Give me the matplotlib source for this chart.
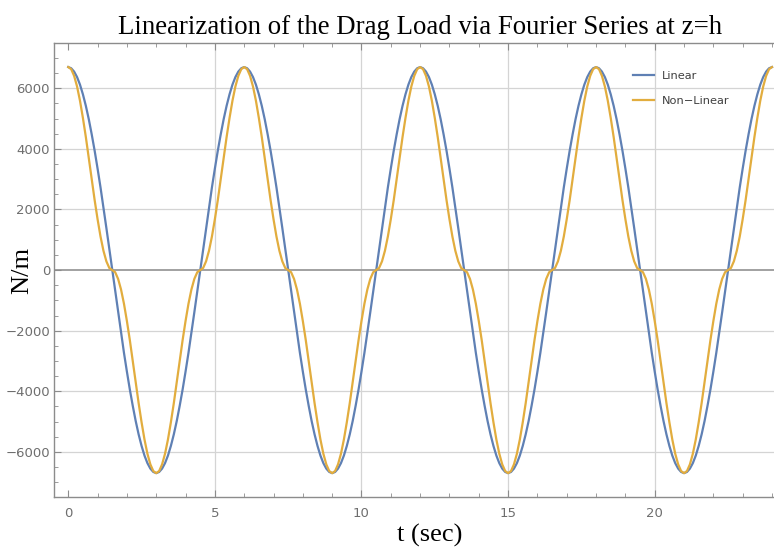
"""Linearization of the drag load via Fourier series at z=h."""

import matplotlib.pyplot as plt
import numpy as np
from matplotlib.ticker import MultipleLocator

# time samples, 0.1 s apart (0 .. 24 s)
t = np.linspace(0, 24, 241)

# values (N/m), one row per half cycle (3 s)
linear = [
    6700, 6660, 6550, 6370, 6120, 5800, 5420, 4980, 4480, 3940, 3350, 2730, 2070, 1390, 700,
    0, -700, -1390, -2070, -2730, -3350, -3940, -4480, -4980, -5420, -5800, -6120, -6370, -6550, -6660,
    -6700, -6660, -6550, -6370, -6120, -5800, -5420, -4980, -4480, -3940, -3350, -2730, -2070, -1390, -700,
    0, 700, 1390, 2070, 2730, 3350, 3940, 4480, 4980, 5420, 5800, 6120, 6370, 6550, 6660,
    6700, 6660, 6550, 6370, 6120, 5800, 5420, 4980, 4480, 3940, 3350, 2730, 2070, 1390, 700,
    0, -700, -1390, -2070, -2730, -3350, -3940, -4480, -4980, -5420, -5800, -6120, -6370, -6550, -6660,
    -6700, -6660, -6550, -6370, -6120, -5800, -5420, -4980, -4480, -3940, -3350, -2730, -2070, -1390, -700,
    0, 700, 1390, 2070, 2730, 3350, 3940, 4480, 4980, 5420, 5800, 6120, 6370, 6550, 6660,
    6700, 6660, 6550, 6370, 6120, 5800, 5420, 4980, 4480, 3940, 3350, 2730, 2070, 1390, 700,
    0, -700, -1390, -2070, -2730, -3350, -3940, -4480, -4980, -5420, -5800, -6120, -6370, -6550, -6660,
    -6700, -6660, -6550, -6370, -6120, -5800, -5420, -4980, -4480, -3940, -3350, -2730, -2070, -1390, -700,
    0, 700, 1390, 2070, 2730, 3350, 3940, 4480, 4980, 5420, 5800, 6120, 6370, 6550, 6660,
    6700, 6660, 6550, 6370, 6120, 5800, 5420, 4980, 4480, 3940, 3350, 2730, 2070, 1390, 700,
    0, -700, -1390, -2070, -2730, -3350, -3940, -4480, -4980, -5420, -5800, -6120, -6370, -6550, -6660,
    -6700, -6660, -6550, -6370, -6120, -5800, -5420, -4980, -4480, -3940, -3350, -2730, -2070, -1390, -700,
    0, 700, 1390, 2070, 2730, 3350, 3940, 4480, 4980, 5420, 5800, 6120, 6370, 6550, 6660,
    6700,
]
non_linear = [
    6700, 6630, 6410, 6060, 5590, 5020, 4390, 3700, 3000, 2310, 1680, 1110, 640, 290, 70,
    0, -70, -290, -640, -1110, -1680, -2310, -3000, -3700, -4390, -5020, -5590, -6060, -6410, -6630,
    -6700, -6630, -6410, -6060, -5590, -5020, -4390, -3700, -3000, -2310, -1680, -1110, -640, -290, -70,
    0, 70, 290, 640, 1110, 1680, 2310, 3000, 3700, 4390, 5020, 5590, 6060, 6410, 6630,
    6700, 6630, 6410, 6060, 5590, 5020, 4390, 3700, 3000, 2310, 1680, 1110, 640, 290, 70,
    0, -70, -290, -640, -1110, -1680, -2310, -3000, -3700, -4390, -5020, -5590, -6060, -6410, -6630,
    -6700, -6630, -6410, -6060, -5590, -5020, -4390, -3700, -3000, -2310, -1680, -1110, -640, -290, -70,
    0, 70, 290, 640, 1110, 1680, 2310, 3000, 3700, 4390, 5020, 5590, 6060, 6410, 6630,
    6700, 6630, 6410, 6060, 5590, 5020, 4390, 3700, 3000, 2310, 1680, 1110, 640, 290, 70,
    0, -70, -290, -640, -1110, -1680, -2310, -3000, -3700, -4390, -5020, -5590, -6060, -6410, -6630,
    -6700, -6630, -6410, -6060, -5590, -5020, -4390, -3700, -3000, -2310, -1680, -1110, -640, -290, -70,
    0, 70, 290, 640, 1110, 1680, 2310, 3000, 3700, 4390, 5020, 5590, 6060, 6410, 6630,
    6700, 6630, 6410, 6060, 5590, 5020, 4390, 3700, 3000, 2310, 1680, 1110, 640, 290, 70,
    0, -70, -290, -640, -1110, -1680, -2310, -3000, -3700, -4390, -5020, -5590, -6060, -6410, -6630,
    -6700, -6630, -6410, -6060, -5590, -5020, -4390, -3700, -3000, -2310, -1680, -1110, -640, -290, -70,
    0, 70, 290, 640, 1110, 1680, 2310, 3000, 3700, 4390, 5020, 5590, 6060, 6410, 6630,
    6700,
]

X_TICKS = [0, 5, 10, 15, 20]
Y_TICKS = [-6000, -4000, -2000, 0, 2000, 4000, 6000]

BLUE = "#5F80B4"
ORANGE = "#E2AD3E"
SERIF = ["Liberation Serif", "DejaVu Serif"]

fig = plt.figure(figsize=(7.74, 5.49), dpi=100)
ax = fig.add_axes([0.070, 0.094, 0.935, 0.828])

for y in Y_TICKS:
    if y != 0:
        ax.axhline(y, color="#d4d4d4", lw=0.9, zorder=0)
for x in X_TICKS[1:]:
    ax.axvline(x, color="#d4d4d4", lw=0.9, zorder=0)
ax.axhline(0, color="#9a9a9a", lw=1.3, zorder=1)

ax.plot(t, linear, color=BLUE, lw=1.6, label="Linear", zorder=3)
ax.plot(t, non_linear, color=ORANGE, lw=1.6, label="Non\u2212Linear", zorder=4)

ax.set_xlim(-0.48, 24.2)
ax.set_ylim(-7500, 7500)
ax.set_xticks(X_TICKS)
ax.set_yticks(Y_TICKS)
ax.xaxis.set_minor_locator(MultipleLocator(1))
ax.yaxis.set_minor_locator(MultipleLocator(500))
ax.tick_params(which="both", direction="in", top=True, right=False,
               color="#8c8c8c", labelcolor="#6e6e6e", labelsize=9.5)
ax.tick_params(which="major", length=5, width=0.8)
ax.tick_params(which="minor", length=3, width=0.6)
ax.tick_params(axis="x", pad=7)
ax.tick_params(axis="y", pad=3)

for side in ("left", "bottom", "top"):
    ax.spines[side].set_color("#8c8c8c")
    ax.spines[side].set_linewidth(1.0)
ax.spines["right"].set_visible(False)

ax.set_title("Linearization of the Drag Load via Fourier Series at z=h",
             family=SERIF, fontsize=19.3, pad=6, x=0.5055)
ax.set_xlabel("t (sec)", family=SERIF, fontsize=19, labelpad=3, x=0.519)
ax.set_ylabel("N/m", family=SERIF, fontsize=19)
ax.yaxis.set_label_coords(-0.029, 0.5)

leg = ax.legend(loc="upper left", bbox_to_anchor=(0.818, 0.871),
                bbox_transform=fig.transFigure, frameon=False, borderpad=0,
                borderaxespad=0, fontsize=8.2, handlelength=1.8,
                handletextpad=0.7, labelspacing=1.36)
for txt in leg.get_texts():
    txt.set_color("#404040")

fig.savefig("out.png", dpi=100)
